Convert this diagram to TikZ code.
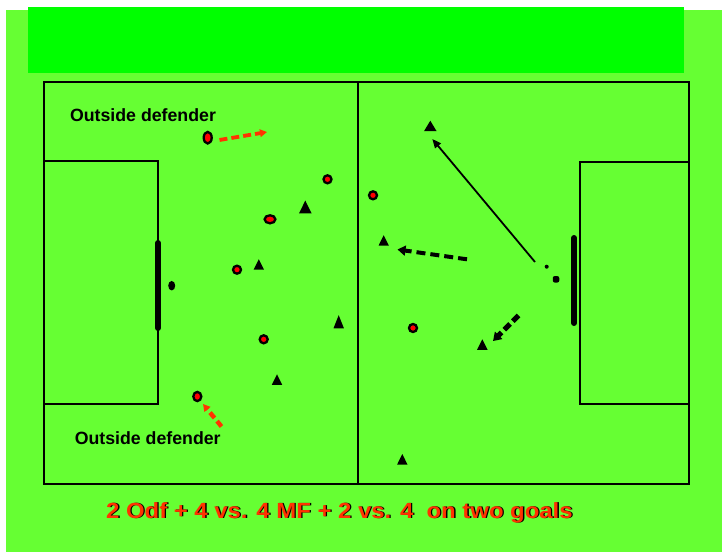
\documentclass[tikz,border=0pt]{standalone}
\usepackage{fontspec}
\setmainfont{Liberation Sans}
\usetikzlibrary{arrows.meta,shapes.geometric}
\definecolor{pitch}{HTML}{66FF33}
\definecolor{band}{HTML}{00FF00}
\definecolor{runred}{HTML}{FF3300}

\begin{document}
\begin{tikzpicture}[x=1bp,y=-1bp,
  fieldline/.style={line width=2.3bp, line join=miter},
  goalbar/.style={line width=6bp, line cap=round},
  player/.style={ellipse, draw=black, fill=red, line width=2.3bp, inner sep=0pt,
                 minimum width=8bp, minimum height=8bp},
  keeper/.style={ellipse, fill=black, inner sep=0pt, minimum width=7bp, minimum height=9.5bp},
  cone/.pic={\fill[line join=round] (-5.2,5.25) -- (0,-5.25) -- (5.2,5.25) -- cycle;},
  label/.style={font=\bfseries\fontsize{17.8}{20}\selectfont, inner sep=0pt},
  runred/.style={draw=runred, dash pattern=on 8bp off 4bp, line width=3.8bp,
                 -{Triangle[length=7bp,width=7.5bp]}},
  run/.style={draw=black, dash pattern=on 9bp off 5bp, line width=4bp,
              -{Triangle[length=8bp,width=10bp]}},
  pass/.style={draw=black, line width=1.8bp, -{Triangle[length=9bp,width=7.5bp]}}
]
\useasboundingbox (0,0) rectangle (722,552);
\fill[white] (0,0) rectangle (722,552);
\fill[pitch] (6,10) rectangle (722,552);
\fill[band] (28,7) rectangle (684,73);

% pitch markings
\draw[fieldline] (44,82) rectangle (689,484);
\draw[fieldline] (358,82) -- (358,484);
\draw[fieldline] (44,161) -| (158,404) -- (44,404);
\draw[fieldline] (689,162) -| (580,404) -- (689,404);
\draw[goalbar] (158,243) -- (158,328);
\draw[goalbar] (574,238) -- (574,323);

% goalkeepers
\node[keeper] (gkL) at (171.7,285.7) {};
\node[circle, fill=black, inner sep=0pt, minimum size=4bp] (gkRa) at (546.7,266.7) {};
\node[rectangle, fill=black, inner sep=0pt, minimum size=6.5bp, rounded corners=2bp] (gkR) at (556,279.3) {};

% red players
\node[player, minimum height=11.6bp] (r1) at (207.7,137.7) {};
\node[player] (r2) at (327.5,179.3) {};
\node[player, minimum width=10.8bp] (r3) at (270,219.3) {};
\node[player] (r4) at (237,269.7) {};
\node[player] (r5) at (263.7,339.3) {};
\node[player, minimum height=9.2bp] (r6) at (197.3,396.5) {};
\node[player] (r7) at (373,195.3) {};
\node[player] (r8) at (413,328) {};

% black players
\pic[scale=1.22] (t1) at (305.3,207) {cone};
\pic (t2) at (258.8,264.4) {cone};
\pic[yscale=1.25] (t3) at (338.7,321.7) {cone};
\pic (t4) at (277,379.5) {cone};
\pic[xscale=1.22] (t5) at (430.3,126) {cone};
\pic (t6) at (383.7,240.5) {cone};
\pic (t7) at (482.3,344.5) {cone};
\pic (t8) at (402.3,459.3) {cone};

% runs and passes
\coordinate (a1s) at (219.5,140);
\coordinate (a1e) at (267,132);
\coordinate (a2s) at (221.5,426.5);
\coordinate (a2e) at (203,404);
\coordinate (b1s) at (467,259.3);
\coordinate (b1e) at (397.5,249.5);
\coordinate (b2s) at (518.5,315.5);
\coordinate (b2e) at (493,341);
\coordinate (ps) at (535,262);
\coordinate (pe) at (432.3,139);

\draw[runred] (a1s) -- (a1e);
\draw[runred, line width=4.4bp, dash pattern=on 7bp off 4bp] (a2s) -- (a2e);
\draw[run] (b1s) -- (b1e);
\draw[run, line width=5bp, dash pattern=on 8bp off 4bp] (b2s) -- (b2e);
\draw[pass] (ps) -- (pe);

% labels
\node[label, anchor=base] (lt) at (143,122) {Outside defender};
\node[label, anchor=base] (lb) at (147.7,444.3) {Outside defender};

\node[anchor=base west, inner sep=0pt, font=\bfseries\fontsize{22}{24}\selectfont, text=black]
  (titleshadow) at (107.3,518.8) {\scalebox{1.09}[1]{2 Odf + 4 vs. 4 MF + 2 vs. 4 \ on two goals}};
\node[anchor=base west, inner sep=0pt, font=\bfseries\fontsize{22}{24}\selectfont, text=runred]
  (title) at (106,518.3) {\scalebox{1.09}[1]{2 Odf + 4 vs. 4 MF + 2 vs. 4 \ on two goals}};
\end{tikzpicture}
\end{document}
